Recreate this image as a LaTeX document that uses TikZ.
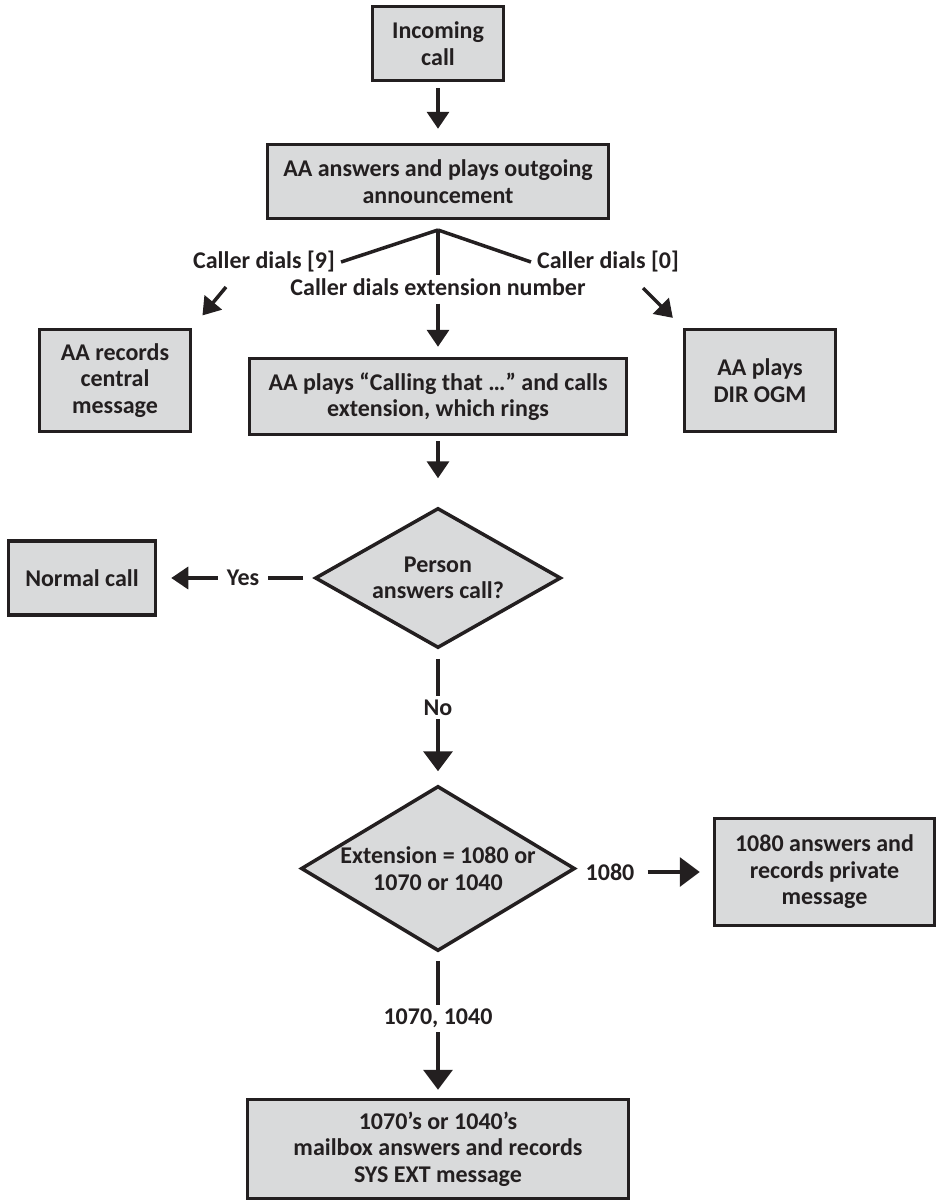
\documentclass[tikz,border=0pt]{standalone}
\usepackage{fontspec}
\setmainfont{Carlito}
\usepackage{xcolor}
\usetikzlibrary{positioning, arrows.meta, shapes.geometric}

\definecolor{boxgray}{HTML}{D9DADB}
\definecolor{ink}{HTML}{231F20}

\begin{document}
\begin{tikzpicture}[x=1pt, y=-1pt,
  every node/.style={font=\fontsize{24}{26.5}\selectfont\bfseries, text=ink},
  box/.style={draw=ink, fill=boxgray, line width=3.5pt, align=center, inner sep=0pt},
  decision/.style={diamond, draw=ink, fill=boxgray, line width=3.5pt, align=center, inner sep=0pt},
  lbl/.style={inner xsep=6pt, inner ysep=3pt},
  gaplbl/.style={fill=white, inner xsep=9pt, inner ysep=4pt},
  link/.style={draw=ink, line width=3.5pt},
  arr/.style={link, -{Triangle[length=17pt, width=22pt]}},
  bigarr/.style={link, -{Triangle[length=20pt, width=29pt]}}]
  \useasboundingbox (0,0) rectangle (943,1203);

  % boxes and questions
  \node[box, minimum width=131pt, minimum height=74pt] (incoming) at (438,43.5) {Incoming\\call};
  \node[box, minimum width=341pt, minimum height=74pt] (answer) at (438,181.5) {AA answers and plays outgoing\\announcement};
  \node[box, minimum width=151pt, minimum height=102pt] (central) at (115,380.5) {AA records\\central\\message};
  \node[box, minimum width=377pt, minimum height=76pt] (calling) at (438,396.5) {AA plays “Calling that …” and calls\\extension, which rings};
  \node[box, minimum width=151pt, minimum height=102pt] (dirogm) at (760,380.5) {AA plays\\DIR OGM};
  \node[decision, aspect=1.757, minimum width=246pt, minimum height=140pt] (person) at (438,578) {Person\\answers call?};
  \node[box, minimum width=147pt, minimum height=74pt] (normal) at (82,578) {Normal call};
  \node[decision, aspect=1.66, inner sep=-3pt, minimum width=274pt, minimum height=165pt] (ext) at (438,868.5) {Extension = 1080 or\\1070 or 1040};
  \node[box, minimum width=220pt, minimum height=107pt] (priv) at (824.5,872) {1080 answers and\\records private\\message};
  \node[box, minimum width=381pt, minimum height=99pt] (mailbox) at (438,1149) {1070’s or 1040’s\\mailbox answers and records\\SYS EXT message};

  % choices after the announcement
  \node[lbl] (dial9) at (264,262) {Caller dials [9]};
  \node[lbl] (dial0) at (608,262) {Caller dials [0]};
  \node[lbl] (dialext) at (438,287) {Caller dials extension number};
  \node[lbl] (l1080) at (610,872) {1080};
  \coordinate (split) at (438,230);
  \coordinate (from9) at (226,287);
  \coordinate (from0) at (643,288);

  \begin{scope}[link]
    \draw (split) -- (dial9.east);
    \draw (split) -- (dial0.west);
    \draw (split) -- (dialext.north);
  \end{scope}

  \draw[arr, shorten <=6pt, shorten >=14pt] (incoming) -- (answer);
  \draw[arr, shorten >=16pt] (from9) -- (central.north east);
  \draw[arr, shorten >=14pt] (from0) -- (dirogm.north west);
  \draw[arr, shorten <=5pt, shorten >=10pt] (dialext) -- (calling);
  \draw[arr, shorten <=5pt, shorten >=28pt] (calling) -- (person);
  \draw[arr, shorten <=10pt, shorten >=14pt] (person) -- node[gaplbl, pos=0.45] (yes) {Yes} (normal);
  \draw[bigarr, shorten <=9pt, shorten >=13pt] (person) -- node[gaplbl, pos=0.43] (no) {No} (ext);
  \draw[bigarr, shorten <=7pt, shorten >=13pt] (l1080) -- (priv);
  \draw[bigarr, shorten <=8pt, shorten >=8pt] (ext) -- node[gaplbl, pos=0.45] (l1070) {1070, 1040} (mailbox);
\end{tikzpicture}
\end{document}
